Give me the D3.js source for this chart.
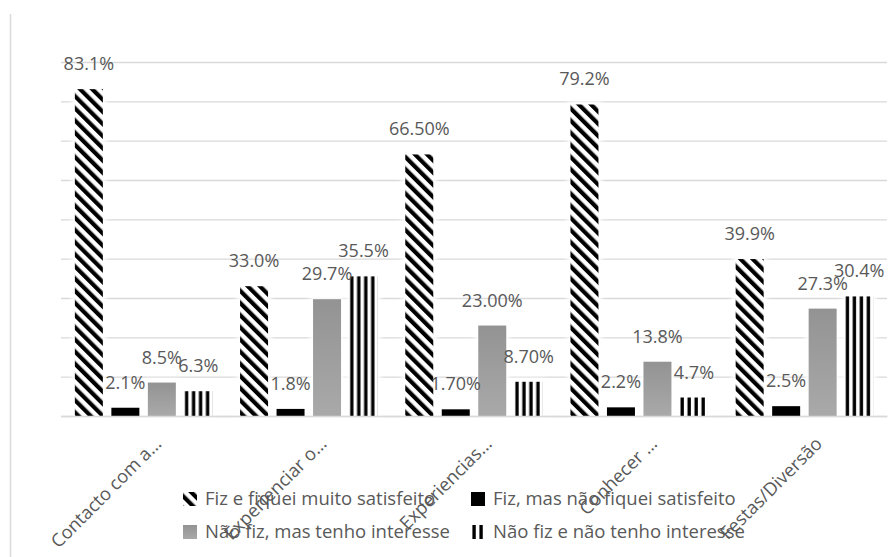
<!DOCTYPE html>
<html>
<head>
<meta charset="utf-8">
<script src="https://cdn.jsdelivr.net/npm/d3@7/dist/d3.min.js"></script>
<style>
  html, body { margin: 0; padding: 0; background: #fff; }
  svg { display: block; font-family: "Open Sans", "Liberation Sans", sans-serif; }
</style>
</head>
<body>
<svg id="chart" width="896" height="557"></svg>
<script>
// Categories (truncated as in the axis) and series
const categories = ["Contacto com a…", "Experienciar o…", "Experiencias…", "Conhecer …", "Festas/Diversão"];
const seriesNames = [
  "Fiz e fiquei muito satisfeito",
  "Fiz, mas não fiquei satisfeito",
  "Não fiz, mas tenho interesse",
  "Não fiz e não tenho interesse"
];
const satisfeito    = [83.1, 33.0, 66.5, 79.2, 39.9];
const naoSatisfeito = [2.1, 1.8, 1.7, 2.2, 2.5];
const interesse     = [8.5, 29.7, 23.0, 13.8, 27.3];
const semInteresse  = [6.3, 35.5, 8.7, 4.7, 30.4];
// Label text as printed on each bar
const labels = [
  ["83.1%", "33.0%", "66.50%", "79.2%", "39.9%"],
  ["2.1%", "1.8%", "1.70%", "2.2%", "2.5%"],
  ["8.5%", "29.7%", "23.00%", "13.8%", "27.3%"],
  ["6.3%", "35.5%", "8.70%", "4.7%", "30.4%"]
];
const yTicks = [0, 10, 20, 30, 40, 50, 60, 70, 80, 90];

const values = [satisfeito, naoSatisfeito, interesse, semInteresse];

const svg = d3.select("#chart");
const defs = svg.append("defs");

// Diagonal hatch "\"
const hatch = defs.append("pattern")
  .attr("id", "hatch").attr("patternUnits", "userSpaceOnUse")
  .attr("width", 8.6).attr("height", 8.6)
  .attr("patternTransform", "rotate(-45)");
hatch.append("rect").attr("width", 8.6).attr("height", 8.6).attr("fill", "#fff");
hatch.append("rect").attr("width", 4.2).attr("height", 8.6).attr("fill", "#000");

// Vertical stripes: four per bar, aligned to each bar's left edge
const vstripe = defs.append("pattern")
  .attr("id", "vstripe")
  .attr("patternUnits", "objectBoundingBox")
  .attr("patternContentUnits", "objectBoundingBox")
  .attr("width", 0.25).attr("height", 1);
vstripe.append("rect").attr("width", 0.25).attr("height", 1).attr("fill", "#fff");
vstripe.append("rect").attr("x", 0.02).attr("width", 0.12).attr("height", 1).attr("fill", "#000");

// Legend swatch version: two stripes
const vstripeKey = defs.append("pattern")
  .attr("id", "vstripeKey")
  .attr("patternUnits", "objectBoundingBox")
  .attr("patternContentUnits", "objectBoundingBox")
  .attr("width", 0.5).attr("height", 1);
vstripeKey.append("rect").attr("width", 0.5).attr("height", 1).attr("fill", "#fff");
vstripeKey.append("rect").attr("x", 0.1).attr("width", 0.24).attr("height", 1).attr("fill", "#000");

// Gray gradient
const grad = defs.append("linearGradient").attr("id", "grayGrad")
  .attr("x1", 0).attr("y1", 0).attr("x2", 0).attr("y2", 1);
grad.append("stop").attr("offset", "0%").attr("stop-color", "#939393");
grad.append("stop").attr("offset", "100%").attr("stop-color", "#a9a9a9");

// Soft white glow behind bars
const glow = defs.append("filter").attr("id", "glow")
  .attr("x", "-50%").attr("y", "-20%").attr("width", "200%").attr("height", "140%");
glow.append("feGaussianBlur").attr("stdDeviation", 2.5);

const fills = ["url(#hatch)", "#000", "url(#grayGrad)", "url(#vstripe)"];
const keyFills = ["url(#hatch)", "#000", "url(#grayGrad)", "url(#vstripeKey)"];

// Chart frame line on the left
svg.append("line")
  .attr("x1", 10.5).attr("x2", 10.5).attr("y1", 14).attr("y2", 557)
  .attr("stroke", "#d9d9d9").attr("stroke-width", 1.5);

const x0 = d3.scaleBand().domain(categories).range([61, 887]).paddingInner(0).paddingOuter(0);
const x1 = d3.scaleBand().domain(d3.range(4)).range([0, x0.bandwidth()])
  .paddingInner(0.233).paddingOuter(0.38);
const y = d3.scaleLinear().domain([0, 90]).range([416, 62]);

// Gridlines
svg.append("g")
  .attr("transform", "translate(61,0)")
  .call(d3.axisLeft(y).tickValues(yTicks).tickSize(-(887 - 61)).tickFormat(""))
  .call(g => g.select(".domain").remove())
  .call(g => g.selectAll(".tick line").attr("stroke", "#d9d9d9").attr("stroke-width", 1.3));

// Bars
const groups = svg.append("g").selectAll("g")
  .data(categories).join("g")
  .attr("transform", d => `translate(${x0(d)},0)`);

const barData = (c, ci) => values.map((v, si) => ({ si, ci, v: v[ci], label: labels[si][ci] }));

groups.each(function (c, ci) {
  const g = d3.select(this);
  const data = barData(c, ci);
  g.selectAll("rect.halo").data(data).join("rect")
    .attr("class", "halo")
    .attr("x", d => x1(d.si) - 3)
    .attr("y", d => y(d.v) - 3)
    .attr("width", x1.bandwidth() + 6)
    .attr("height", d => y(0) - y(d.v) + 3)
    .attr("fill", "#fff")
    .attr("filter", "url(#glow)");
  g.selectAll("rect.bar").data(data).join("rect")
    .attr("class", "bar")
    .attr("x", d => x1(d.si))
    .attr("y", d => y(d.v))
    .attr("width", x1.bandwidth())
    .attr("height", d => y(0) - y(d.v))
    .attr("fill", d => fills[d.si]);
});

// Baseline
svg.append("g")
  .attr("transform", "translate(0,416)")
  .call(d3.axisBottom(x0).tickSize(0).tickFormat(""))
  .call(g => g.select(".domain").attr("stroke", "#d9d9d9").attr("stroke-width", 1.3));

// Data labels
groups.each(function (c, ci) {
  d3.select(this).selectAll("text.lbl").data(barData(c, ci)).join("text")
    .attr("class", "lbl")
    .attr("x", d => x1(d.si) + x1.bandwidth() / 2)
    .attr("y", d => y(d.v) - 19)
    .attr("text-anchor", "middle")
    .attr("font-size", 18)
    .attr("fill", "#595959")
    .text(d => d.label);
});

// Category labels, rotated
svg.append("g").selectAll("text")
  .data(categories).join("text")
  .attr("transform", d => `translate(${x0(d) + x0.bandwidth() / 2 + 19},445) rotate(-45)`)
  .attr("text-anchor", "end")
  .attr("font-size", 18.3)
  .attr("fill", "#595959")
  .text(d => d);

// Legend
const legendPos = [
  { x: 183, y: 499 }, { x: 471, y: 499 },
  { x: 183, y: 532 }, { x: 471, y: 532 }
];
const legend = svg.append("g").selectAll("g")
  .data(seriesNames).join("g")
  .attr("transform", (d, i) => `translate(${legendPos[i].x},${legendPos[i].y})`);
legend.append("rect")
  .attr("x", 0).attr("y", -7).attr("width", 14).attr("height", 14)
  .attr("fill", (d, i) => keyFills[i]);
legend.append("text")
  .attr("x", 22).attr("y", 0).attr("dy", "0.35em")
  .attr("font-size", 18.5)
  .attr("fill", "#595959")
  .text(d => d);
</script>
</body>
</html>
